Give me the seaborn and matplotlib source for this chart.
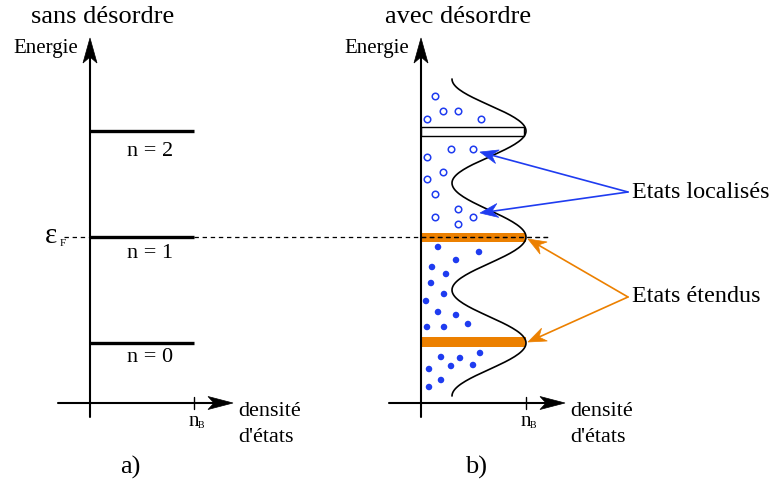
import numpy as np
import pandas as pd
import matplotlib.pyplot as plt
import seaborn as sns
from matplotlib.patches import Rectangle, Polygon

sns.set_theme(style='white')
plt.rcParams['font.family'] = ['Liberation Serif', 'DejaVu Serif']
plt.rcParams['text.color'] = 'black'

# diagram in pixel units (y pointing down)
level_names = ['n = 2', 'n = 1', 'n = 0']
level_y = [131, 237, 343]
label_y = [152, 253, 358]
e_fermi = 237

axis_a, axis_b = 90, 421      # energy axes
nb_a, nb_b = 194, 526         # n_B ticks
axis_y = 403                  # DOS axis

# extrema of the broadened DOS (y, x)
dos_y = [79, 131, 183, 237, 290, 343, 396]
dos_x = [452, 526, 452, 526, 452, 526, 452]

# localised states (open circles)
loc_x = [435, 443, 458, 427, 481, 451, 473, 427, 443, 427, 435, 458, 435, 473, 458]
loc_y = [96, 111, 111, 119, 119, 149, 149, 157, 172, 179, 194, 209, 217, 217, 224]

# electrons (filled dots)
el_x = [438, 479, 456, 432, 446, 431, 444, 426, 438, 456, 468, 427, 444,
        441, 460, 480, 451, 473, 429, 441, 429]
el_y = [247, 252, 260, 267, 274, 283, 294, 301, 312, 315, 324, 327, 327,
        357, 358, 353, 366, 365, 369, 380, 387]

blue = '#1f3cf0'
orange = '#ec8000'

fig = plt.figure(figsize=(7.73, 4.88), dpi=100)
ax = fig.add_axes([0, 0, 1, 1])
ax.set_xlim(0, 773)
ax.set_ylim(488, 0)
ax.axis('off')


def arrow(tail, tip, color='black', lw=1.5, L=25, W=7, N=19):
    # line + stealth arrow head
    tail = np.array(tail, float)
    tip = np.array(tip, float)
    d = (tip - tail) / np.hypot(*(tip - tail))
    n = np.array([-d[1], d[0]])
    ax.plot([tail[0], (tip - N * d)[0]], [tail[1], (tip - N * d)[1]], color=color, lw=lw)
    pts = [tip, tip - L * d + W * n, tip - N * d, tip - L * d - W * n]
    ax.add_patch(Polygon(pts, closed=True, facecolor=color, edgecolor=color, lw=0.5, zorder=6))


# axes of both panels
for x0, nb in [(axis_a, nb_a), (axis_b, nb_b)]:
    ax.plot([x0, x0], [417, 60], color='black', lw=1.5)
    arrow((x0, 60), (x0, 38))
    arrow((x0 - 32, axis_y), (nb + 39, axis_y), L=25, W=6.5, N=19)
    ax.plot([nb, nb], [397, 409], color='black', lw=1)
    ax.text(nb, 421, 'n', ha='center', va='center', fontsize=15)
    ax.text(nb + 7, 426, 'B', ha='center', va='center', fontsize=7)
    ax.text(nb + 44, 411, 'densité', ha='left', va='center', fontsize=16)
    ax.text(nb + 44, 438, "d'états", ha='left', va='center', fontsize=16)
    ax.text(x0 - 12, 48, 'Energie', ha='right', va='center', fontsize=15)

# panel a: sharp Landau levels
for name, y, ly in zip(level_names, level_y, label_y):
    ax.plot([axis_a, nb_a], [y, y], color='black', lw=2.4, solid_capstyle='butt')
    ax.text(150, ly, name, ha='center', va='center', fontsize=16)

# Fermi level
ax.plot([64, 548], [e_fermi, e_fermi], color='black', lw=0.9, ls=(0, (3.5, 3)))
ax.text(51, 236, 'ε', ha='center', va='center', fontsize=21)
ax.text(63, 243, 'F', ha='center', va='center', fontsize=8)

# panel b: broadened levels
ax.add_patch(Rectangle((axis_b, 127), nb_b - 2 - axis_b, 9, facecolor='white',
                       edgecolor='black', lw=1))
ax.add_patch(Rectangle((axis_b, 233), nb_b - axis_b, 9, facecolor=orange, edgecolor='none'))
ax.add_patch(Rectangle((axis_b, 337), nb_b - axis_b, 10, facecolor=orange, edgecolor='none'))
ax.plot([axis_b, 548], [e_fermi, e_fermi], color='black', lw=0.9, ls=(0, (3.5, 3)))

# DOS curve through the read extrema
cy, cx = [], []
for i in range(len(dos_y) - 1):
    t = np.linspace(0, 1, 40)
    cy.extend(dos_y[i] + (dos_y[i + 1] - dos_y[i]) * t)
    cx.extend(dos_x[i] + (dos_x[i + 1] - dos_x[i]) * (1 - np.cos(np.pi * t)) / 2)
ax.plot(cx, cy, color='black', lw=1.2)

sns.scatterplot(x=loc_x, y=loc_y, ax=ax, marker='o', s=22, facecolor='white',
                edgecolor=blue, linewidth=1.1, zorder=5)
sns.scatterplot(x=el_x, y=el_y, ax=ax, marker='o', s=22, color=blue,
                edgecolor='none', zorder=5)

# annotations
for tip in [(480, 152), (480, 213)]:
    arrow((628, 192), tip, color=blue, lw=1.2, L=18, W=7, N=12)
for tip in [(528, 239), (528, 342)]:
    arrow((628, 297), tip, color=orange, lw=1.2, L=18, W=7, N=12)
ax.text(632, 192, 'Etats localisés', ha='left', va='center', fontsize=17.4)
ax.text(632, 297, 'Etats étendus', ha='left', va='center', fontsize=17.4)

# titles
ax.text(103, 17, 'sans désordre', ha='center', va='center', fontsize=19)
ax.text(458, 17, 'avec désordre', ha='center', va='center', fontsize=19)
ax.text(130, 467, 'a)', ha='center', va='center', fontsize=19)
ax.text(476, 467, 'b)', ha='center', va='center', fontsize=19)

fig.savefig('out.png', dpi=100)
